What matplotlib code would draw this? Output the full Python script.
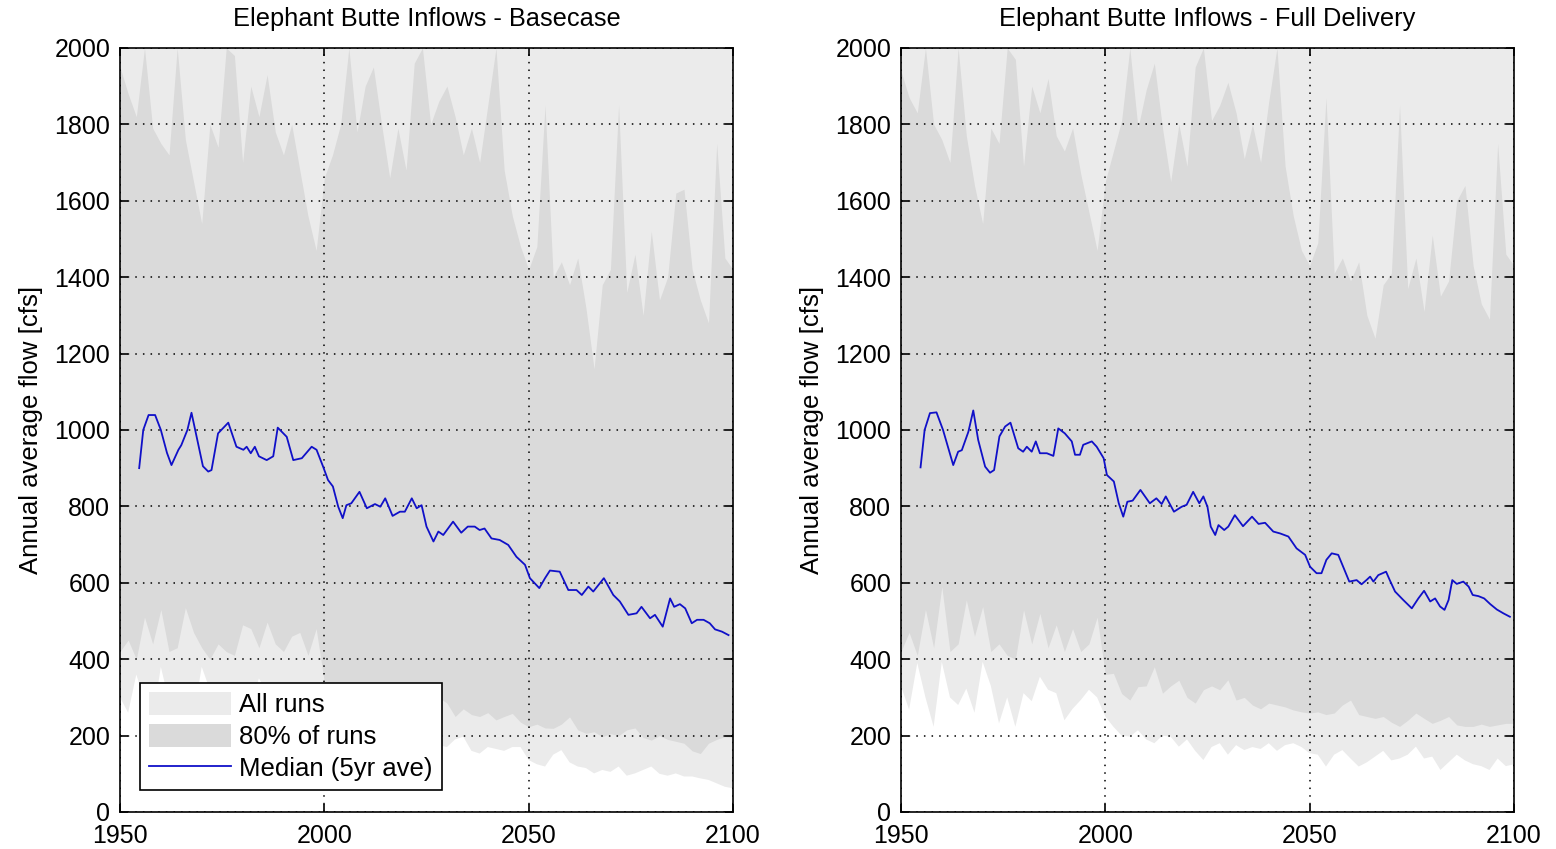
import numpy as np
import matplotlib.pyplot as plt

plt.rcParams['font.family'] = ['Liberation Sans', 'DejaVu Sans']

# ---- data (cfs) ----
band_years = np.arange(1950, 2101, 2)

# Basecase
base_u80 = [1950, 1880, 1820, 2000, 1790, 1750, 1720, 2000, 1760, 1650,
            1540, 1800, 1740, 2000, 1980, 1700, 1900, 1820, 1930, 1780,
            1720, 1800, 1680, 1560, 1470, 1660, 1720, 1800, 2000, 1780,
            1900, 1950, 1800, 1660, 1790, 1680, 1960, 2000, 1800, 1860,
            1900, 1820, 1720, 1790, 1700, 1850, 2000, 1680, 1560, 1480,
            1420, 1480, 1850, 1400, 1440, 1380, 1450, 1320, 1160, 1380,
            1420, 1850, 1360, 1460, 1300, 1520, 1340, 1400, 1620, 1630,
            1420, 1340, 1280, 1750, 1450, 1420]
base_l80 = [420, 450, 400, 510, 440, 530, 420, 430, 535, 470,
            430, 400, 440, 420, 410, 490, 480, 430, 497, 440,
            420, 460, 470, 410, 480, 340, 320, 300, 330, 310,
            300, 330, 290, 310, 280, 300, 270, 290, 260, 300,
            285, 250, 270, 255, 250, 260, 241, 250, 258, 235,
            223, 230, 220, 219, 230, 249, 215, 206, 210, 197,
            205, 200, 215, 220, 195, 188, 200, 190, 185, 180,
            160, 153, 180, 190, 197, 195]
base_min = [300, 260, 360, 290, 240, 380, 290, 270, 340, 250,
            380, 320, 240, 290, 230, 300, 280, 350, 310, 300,
            250, 260, 290, 310, 290, 200, 170, 150, 175, 140,
            160, 145, 130, 150, 140, 120, 150, 130, 145, 175,
            170, 190, 197, 160, 153, 170, 165, 160, 170, 170,
            136, 125, 119, 150, 162, 130, 119, 115, 101, 110,
            105, 119, 95, 101, 110, 119, 100, 95, 101, 93,
            93, 88, 84, 75, 66, 62]
# all-runs maximum is off the top of the axis everywhere
base_max = [2600, 2500, 2450, 2700, 2400, 2350, 2300, 2650, 2400, 2300,
            2250, 2450, 2400, 2700, 2650, 2350, 2550, 2450, 2600, 2400,
            2350, 2450, 2300, 2250, 2150, 2300, 2400, 2450, 2700, 2400,
            2550, 2600, 2450, 2300, 2450, 2300, 2600, 2700, 2450, 2500,
            2550, 2450, 2350, 2400, 2350, 2500, 2700, 2300, 2200, 2150,
            2100, 2150, 2500, 2100, 2150, 2100, 2150, 2050, 2050, 2100,
            2150, 2500, 2100, 2150, 2050, 2200, 2100, 2150, 2300, 2300,
            2150, 2100, 2050, 2400, 2150, 2150]

base_med_years = [1954.7, 1955.7, 1957, 1958.6, 1960, 1961.5, 1962.6, 1964.3, 1965, 1966.5,
                  1967.5, 1968.8, 1970.3, 1971.6, 1972.4, 1974, 1976.5, 1978.5, 1980.2, 1981,
                  1982, 1983, 1984, 1985.9, 1987.5, 1988.6, 1990.8, 1992.4, 1994.5, 1996.9,
                  1998.1, 1999.7, 2000.9, 2002.1, 2003.4, 2004.5, 2005.4, 2006.6, 2008.6, 2010.4,
                  2012.4, 2013.7, 2014.9, 2016.7, 2018.5, 2019.7, 2021.4, 2022.6, 2023.8, 2025,
                  2026.7, 2027.9, 2029.1, 2031.5, 2033.5, 2035.1, 2036.8, 2038, 2039.2, 2040.9,
                  2042.9, 2045, 2047, 2049.1, 2050.3, 2052.6, 2054, 2055.2, 2057.6, 2059.7,
                  2061.7, 2063, 2064.6, 2065.8, 2068.4, 2070.7, 2072.3, 2074.4, 2076.4, 2077.6,
                  2079.7, 2080.9, 2082.8, 2084.6, 2085.6, 2087, 2088.3, 2089.9, 2091.2, 2092.8,
                  2094.3, 2095.6, 2097.3, 2098.9]
base_med = [900, 1000, 1039, 1039, 1000, 940, 908, 948, 960, 1000,
            1045, 980, 905, 891, 895, 991, 1019, 956, 948, 956,
            939, 956, 931, 921, 931, 1006, 982, 921, 926, 956,
            948, 904, 869, 852, 799, 769, 803, 808, 838, 795,
            806, 799, 821, 775, 786, 786, 821, 795, 803, 747,
            708, 734, 725, 760, 731, 747, 747, 738, 742, 716,
            712, 699, 668, 647, 612, 586, 612, 632, 629, 581,
            581, 568, 590, 577, 612, 568, 551, 516, 520, 537,
            507, 516, 485, 559, 537, 544, 533, 494, 503, 503,
            494, 478, 472, 463]

# Full Delivery
full_u80 = [1940, 1870, 1830, 2000, 1800, 1760, 1700, 2000, 1770, 1640,
            1540, 1790, 1750, 2000, 1970, 1690, 1900, 1830, 1920, 1770,
            1730, 1790, 1670, 1570, 1470, 1650, 1730, 1810, 2000, 1790,
            1890, 1960, 1790, 1650, 1800, 1690, 1950, 2000, 1810, 1850,
            1910, 1830, 1710, 1800, 1700, 1860, 2000, 1690, 1560, 1470,
            1430, 1490, 1870, 1410, 1450, 1390, 1440, 1300, 1240, 1380,
            1410, 1850, 1370, 1450, 1310, 1510, 1350, 1390, 1600, 1640,
            1430, 1330, 1290, 1750, 1460, 1430]
full_l80 = [420, 470, 410, 530, 430, 590, 420, 440, 555, 460,
            538, 420, 440, 410, 400, 529, 440, 520, 430, 490,
            420, 480, 420, 440, 510, 360, 363, 310, 293, 328,
            330, 380, 311, 330, 345, 300, 285, 320, 330, 320,
            346, 293, 300, 280, 270, 285, 280, 275, 267, 262,
            259, 262, 255, 259, 280, 293, 255, 250, 245, 250,
            235, 224, 240, 259, 245, 232, 240, 250, 228, 224,
            224, 230, 224, 228, 232, 232]
full_min = [330, 268, 390, 300, 223, 393, 300, 280, 323, 260,
            393, 330, 232, 300, 223, 311, 290, 354, 320, 311,
            240, 270, 293, 320, 300, 250, 223, 200, 197, 214,
            190, 180, 200, 197, 171, 190, 160, 136, 170, 180,
            150, 175, 162, 170, 165, 180, 160, 175, 180, 170,
            154, 150, 119, 150, 162, 140, 119, 130, 145, 160,
            135, 140, 150, 171, 140, 145, 110, 130, 150, 135,
            125, 120, 110, 140, 120, 125]
full_max = [2600, 2500, 2450, 2700, 2400, 2350, 2300, 2650, 2400, 2300,
            2250, 2450, 2400, 2700, 2650, 2350, 2550, 2450, 2600, 2400,
            2350, 2450, 2300, 2250, 2150, 2300, 2400, 2450, 2700, 2400,
            2550, 2600, 2450, 2300, 2450, 2300, 2600, 2700, 2450, 2500,
            2550, 2450, 2350, 2400, 2350, 2500, 2700, 2300, 2200, 2150,
            2100, 2150, 2500, 2100, 2150, 2100, 2150, 2050, 2050, 2100,
            2150, 2500, 2100, 2150, 2050, 2200, 2100, 2150, 2300, 2300,
            2150, 2100, 2050, 2400, 2150, 2150]

full_med_years = [1954.8, 1955.8, 1957.1, 1958.7, 1960.3, 1962.8, 1964, 1964.9, 1966.5, 1967.7,
                  1968.9, 1970.6, 1971.8, 1972.8, 1974.1, 1975.5, 1976.8, 1978.7, 1979.9, 1980.8,
                  1982, 1983, 1984, 1985.7, 1987.3, 1988.5, 1990.1, 1991.8, 1992.6, 1993.8,
                  1994.6, 1996.7, 1997.9, 1999.6, 2000.4, 2002.1, 2003.3, 2004.4, 2005.4, 2006.7,
                  2008.6, 2010.9, 2012.5, 2013.8, 2014.8, 2016.8, 2018.7, 2019.9, 2021.5, 2023,
                  2024, 2025, 2025.8, 2026.9, 2027.7, 2029.1, 2030.1, 2031.7, 2033.7, 2035.9,
                  2037.5, 2039.1, 2041.1, 2042.8, 2044.8, 2046.8, 2048.9, 2050.1, 2051.7, 2052.9,
                  2054.1, 2055.4, 2057, 2058.2, 2059.7, 2061.5, 2062.7, 2063.9, 2064.8, 2065.6,
                  2066.8, 2068.7, 2069.6, 2070.9, 2072.9, 2075, 2076.6, 2078, 2079.5, 2080.7,
                  2081.9, 2083, 2084, 2084.9, 2086, 2087.6, 2088.9, 2089.9, 2091.3, 2092.7,
                  2094.2, 2095.8, 2097.4, 2099]
full_med = [902, 1000, 1044, 1046, 1000, 908, 943, 947, 995, 1051,
            974, 904, 888, 895, 983, 1009, 1019, 952, 943, 956,
            943, 970, 939, 939, 932, 1004, 991, 970, 935, 935,
            961, 970, 956, 926, 882, 865, 808, 773, 812, 815,
            843, 808, 821, 806, 826, 786, 799, 804, 838, 808,
            826, 799, 747, 725, 751, 738, 747, 777, 748, 773,
            754, 757, 734, 729, 721, 690, 673, 642, 625, 625,
            660, 677, 673, 642, 603, 607, 596, 607, 616, 603,
            620, 629, 607, 577, 555, 533, 559, 579, 551, 559,
            538, 529, 555, 607, 597, 603, 590, 568, 565, 559,
            544, 530, 520, 511]

titles = ['Elephant Butte Inflows - Basecase', 'Elephant Butte Inflows - Full Delivery']

LIGHT = '#ebebeb'
DARK = '#dadada'
BLUE = '#1010c8'

fig = plt.figure(figsize=(15.56, 8.49), dpi=100)
ax1 = fig.add_axes([0.0771, 0.0436, 0.394, 0.900])
ax2 = fig.add_axes([0.5790, 0.0436, 0.394, 0.900])

panels = [
    (ax1, base_min, base_max, base_l80, base_u80, base_med_years, base_med, titles[0]),
    (ax2, full_min, full_max, full_l80, full_u80, full_med_years, full_med, titles[1]),
]

for ax, amin, amax, l80, u80, myears, med, title in panels:
    ax.fill_between(band_years, amin, amax, color=LIGHT, lw=0, label='All runs', zorder=1)
    ax.fill_between(band_years, l80, u80, color=DARK, lw=0, label='80% of runs', zorder=1.2)
    ax.plot(myears, med, color=BLUE, lw=1.3, label='Median (5yr ave)', zorder=3)

    ax.set_xlim(1950, 2100)
    ax.set_ylim(0, 2000)
    ax.set_xticks([1950, 2000, 2050, 2100])
    ax.set_yticks(np.arange(0, 2001, 200))
    ax.set_axisbelow(False)
    ax.grid(True, color='black', linestyle=(0, (1, 4)), linewidth=1.1)
    ax.tick_params(direction='in', top=True, right=True, length=6, width=1.2,
                   labelsize=18, pad=7)
    ax.tick_params(axis='x', pad=9)
    for sp in ax.spines.values():
        sp.set_linewidth(1.2)
    ax.set_ylabel('Annual average flow [cfs]', fontsize=18.5, labelpad=8)
    ax.set_title(title, fontsize=18.3, pad=16)

leg = ax1.legend(loc='lower left', bbox_to_anchor=(0.033, 0.029), borderaxespad=0,
                 fontsize=18.5, frameon=True, fancybox=False, framealpha=1,
                 edgecolor='black', handlelength=3.2, handleheight=1.0,
                 labelspacing=0.25, borderpad=0.35, handletextpad=0.3)
leg.get_frame().set_linewidth(1.2)

fig.savefig('out.png', dpi=100)
